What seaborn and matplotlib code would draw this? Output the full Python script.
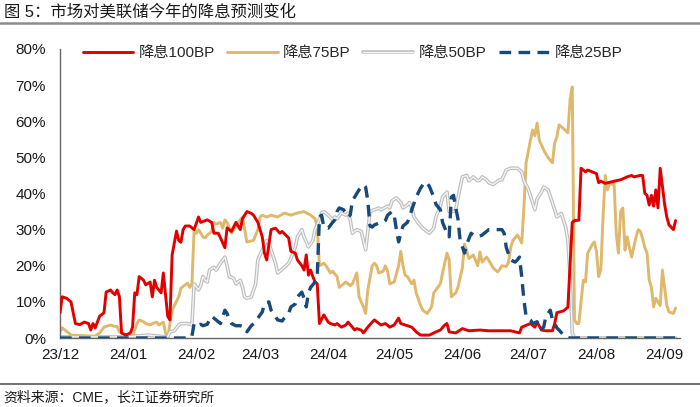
import numpy as np
import pandas as pd
import matplotlib
matplotlib.use("Agg")
import matplotlib.pyplot as plt
import matplotlib.dates as mdates
import matplotlib.patheffects as pe
from matplotlib.lines import Line2D
from matplotlib.ticker import FuncFormatter
import seaborn as sns

# ---------------- data (days since 2023-12-01, probability in %) ----------------
START_DATE = "2023-12-01"
series_names = ["降息100BP", "降息75BP", "降息50BP", "降息25BP"]

cut100_day = [0, 1, 3, 5, 6, 7, 9, 11, 13, 14, 15, 16, 17, 18, 20, 21, 23, 24, 25, 26, 27, 28, 30, 32, 33, 34, 35,
              36, 38, 39, 41, 42, 43, 44, 46, 47, 48, 49, 50, 51, 53, 54, 55, 56, 57, 59, 61, 63, 64, 67, 69, 70, 72,
              73, 75, 76, 78, 80, 82, 83, 85, 87, 88, 90, 92, 93, 94, 96, 98, 100, 101, 104, 105, 107, 108, 110, 111,
              112, 113, 114, 115, 116, 117, 118, 120, 122, 123, 125, 126, 128, 130, 131, 133, 134, 135, 137, 138, 140,
              142, 143, 146, 148, 150, 152, 154, 155, 157, 160, 162, 164, 166, 168, 171, 173, 175, 176, 177, 180, 183,
              186, 191, 195, 200, 205, 209, 210, 214, 216, 217, 219, 221, 224, 225, 226, 229, 231, 233, 234, 236, 237,
              239, 240, 242, 244, 245, 246, 248, 252, 255, 258, 260, 261, 264, 265, 266, 267, 268, 269, 270, 271, 272,
              273, 274, 275, 276, 277, 279, 280]
cut100_val = [7, 11.4, 11, 10, 7, 4, 3.7, 4.4, 4, 2.2, 4, 2.8, 4.4, 6, 7, 12.7, 13.3, 12.5, 12, 13.3, 11.5, 1.4, 0.8,
              1.4, 3, 12.5, 12, 17, 16, 14.7, 15.5, 11.4, 16, 14, 12.5, 18, 12, 6, 5, 23, 29.6, 27, 26.5, 30, 31, 31,
              30, 33.5, 32, 32.7, 32, 29, 29, 27.7, 25, 30.5, 29.5, 32, 30, 33, 35, 34.5, 34, 32, 28, 23.5, 21.6, 30,
              30.4, 29, 29.5, 27.7, 24, 23.5, 21.6, 20, 18.8, 23, 17.4, 18.8, 17, 15.5, 15, 4, 6.4, 4.4, 4, 3.6, 4, 3,
              3.6, 4.4, 3, 2.2, 2.6, 2.2, 1.4, 3, 4.4, 5, 3.6, 4, 3, 3.6, 5.5, 4, 3.6, 3, 1.7, 0.8, 0.8, 0.8, 1.7, 2.2,
              3.6, 4, 1.7, 1.4, 2.6, 2, 2.2, 2, 2, 2, 1.4, 3, 4, 3, 4.4, 2.2, 2, 2, 4, 7, 7.5, 8.5, 32, 32.5, 32.6,
              47, 46, 46.5, 46, 45.5, 43, 43.4, 42.8, 43.4, 43.8, 44.6, 45, 44.6, 45, 45, 40, 39.5, 36.8, 39.5, 36.5,
              41, 36, 47, 42, 37, 33.5, 31.3, 30, 32.5]

cut75_day = [0, 1, 2, 4, 5, 16, 18, 20, 23, 25, 26, 27, 29, 33, 35, 36, 38, 39, 41, 42, 44, 45, 47, 48, 49, 50, 51,
             54, 55, 58, 59, 60, 61, 62, 63, 65, 66, 67, 69, 70, 71, 73, 74, 75, 76, 78, 80, 81, 83, 84, 85, 88, 90,
             91, 92, 94, 96, 99, 102, 105, 108, 111, 114, 116, 117, 118, 120, 121, 123, 124, 126, 127, 129, 130, 132,
             133, 135, 136, 138, 139, 140, 142, 143, 144, 145, 147, 148, 149, 150, 152, 154, 155, 156, 157, 158, 160,
             161, 162, 164, 165, 167, 169, 170, 173, 174, 176, 177, 178, 180, 181, 183, 184, 185, 186, 188, 190, 191,
             192, 194, 195, 197, 199, 200, 201, 203, 204, 205, 206, 208, 209, 210, 211, 212, 214, 215, 216, 217, 218,
             220, 222, 224, 225, 226, 227, 229, 231, 232, 233, 234, 235, 236, 237, 238, 239, 240, 242, 243, 244, 245,
             246, 247, 248, 249, 250, 251, 252, 253, 254, 255, 256, 257, 258, 259, 260, 262, 263, 264, 265, 266, 267,
             268, 269, 270, 271, 272, 273, 274, 275, 276, 277, 279, 280]
cut75_val = [1.7, 2.8, 2.3, 1.4, 0.8, 0.5, 1.4, 3, 3.6, 3.2, 3.2, 1.7, 1, 0.5, 4, 5, 4.5, 4, 3.6, 4, 4.4, 3.6, 4.4,
             1.4, 0, 4, 7.7, 11.4, 13.8, 15.2, 14, 15, 30, 29, 30, 28, 27.7, 28.5, 29.5, 32, 31.5, 32, 30.4, 32.7, 32,
             29, 31, 32, 33.5, 30, 26.6, 27, 30, 33.5, 34, 33.5, 34, 33.5, 34.6, 34, 34.6, 35, 34, 33, 31, 20, 20.7,
             20, 18, 18.5, 17, 14, 15, 15.5, 14.5, 15, 18, 11.4, 8.6, 6.8, 13.3, 20, 20.7, 20, 18, 18.5, 20, 18.5, 15,
             15.5, 20, 24, 20, 17.4, 17, 15, 16, 12.5, 9, 7.7, 6.8, 8.6, 12.5, 15, 18, 23.5, 21.6, 11.4, 12.5, 14,
             19.4, 26, 24, 22, 23, 20, 23.8, 21, 22.4, 21.6, 19.4, 18.3, 19, 20, 19.8, 21, 25, 27, 28.5, 27.5, 26.3,
             36, 48.5, 54.8, 57.6, 56, 59.5, 54.8, 52, 49.9, 48.5, 54, 55.7, 59, 58, 56.8, 66, 69.5, 5, 4, 4, 10, 16,
             15.5, 23.5, 25.8, 26.6, 24, 17, 19, 33.5, 45, 41, 43, 42.5, 43, 29, 23.5, 35, 36, 24.3, 28, 25, 22.4, 28,
             30, 29.5, 27.5, 25, 23.5, 16, 14, 8.6, 11, 10, 9, 18.8, 14, 9, 7.2, 6.8, 8.3]

cut50_day = [0, 30, 40, 45, 49, 50, 52, 54, 55, 58, 60, 61, 63, 64, 65, 66, 67, 68, 70, 71, 73, 75, 76, 77, 79, 80,
             82, 83, 84, 85, 87, 89, 90, 92, 94, 95, 98, 99, 101, 104, 105, 107, 108, 110, 111, 113, 115, 116, 117,
             119, 120, 122, 124, 125, 126, 128, 130, 131, 132, 133, 135, 137, 139, 140, 141, 143, 145, 146, 149, 150,
             151, 153, 155, 156, 158, 159, 160, 161, 163, 165, 168, 170, 171, 173, 174, 176, 177, 179, 180, 182, 183,
             185, 186, 188, 190, 191, 192, 194, 195, 197, 199, 200, 201, 203, 205, 206, 208, 210, 211, 213, 215, 216,
             217, 219, 220, 222, 224, 225, 226, 228, 230, 231, 232, 233, 234, 280]
cut50_val = [0.3, 0.3, 0.8, 0.5, 0.3, 1.7, 2, 3.6, 4, 4, 3.6, 15, 13.3, 14.5, 17, 16, 15.5, 18.8, 19.6, 18.8, 20.7,
             22.4, 20, 17, 16.5, 15, 16, 14, 11.4, 11, 11.4, 15, 21.6, 24.4, 27, 26.3, 20.7, 18, 19, 20.7, 22, 25.2,
             28, 30, 28, 25.2, 27, 30, 31.3, 34.6, 35, 34, 32.7, 33.5, 33, 34.6, 34, 34.6, 32.7, 29, 30, 29.5, 24.4,
             29.5, 35, 35.5, 36, 35.5, 36.5, 36, 38, 38.8, 37.5, 36, 36.8, 37.5, 36, 33.5, 31.8, 30.4, 29, 30.5, 33.5,
             36.5, 39, 40.4, 35, 35, 35.5, 41.8, 44.6, 45, 43.5, 44.6, 43.5, 43.7, 44.6, 43.8, 43, 42.5, 43.4, 43.8,
             43.8, 46.5, 47, 47, 47, 46, 43.5, 41.2, 37.4, 35.5, 38.5, 40.4, 41.8, 41, 37.4, 35.5, 33.5, 34.5, 30.7,
             27, 17, 1.4, 0, 0]

cut25_day = [0, 59, 60, 61, 62, 64, 65, 67, 68, 69, 71, 73, 75, 76, 77, 78, 80, 82, 84, 85, 87, 89, 90, 92, 93, 95,
             96, 98, 99, 101, 102, 104, 105, 107, 108, 110, 111, 112, 113, 114, 116, 117, 118, 119, 120, 122, 124,
             125, 126, 127, 129, 131, 132, 133, 135, 136, 138, 139, 140, 141, 142, 143, 145, 147, 148, 149, 151, 152,
             153, 154, 156, 158, 159, 160, 162, 164, 166, 167, 168, 170, 171, 173, 174, 176, 177, 178, 179, 180, 181,
             182, 184, 185, 187, 188, 190, 192, 194, 195, 197, 199, 201, 202, 203, 205, 207, 208, 209, 210, 211, 212,
             214, 215, 217, 218, 220, 221, 223, 224, 226, 227, 229, 230, 232, 280]
cut25_val = [0, 0, 0.5, 4, 3.4, 3.8, 3.4, 3.8, 5, 6, 5, 4, 7.7, 6.8, 5, 4, 3.4, 3.4, 3, 1.7, 3.4, 4.4, 5.5, 7.2, 9.5,
             10, 7.7, 6, 5, 4.7, 5.5, 6.8, 8.6, 9.4, 11.4, 12.7, 11, 8.6, 12.5, 14, 15.5, 17, 33.5, 34, 30.7, 30.4,
             32, 32.7, 35, 36, 35.5, 33.5, 34, 38, 40, 41, 42.4, 41.8, 38, 31, 30.7, 31.3, 31.8, 32, 32.5, 34, 35, 34,
             30, 26.6, 31, 32, 33.5, 35.5, 39, 41.5, 43.2, 42.8, 42, 39, 37, 35.5, 32, 29, 28, 39, 39.5, 36, 33, 27,
             23.5, 26, 29, 28.5, 28, 28.5, 29.5, 30, 30, 30, 30, 29, 25, 21.6, 21, 21.6, 22.4, 17, 10.5, 6, 5, 4, 4.5,
             2.2, 3, 6, 7.7, 5, 2.8, 2.2, 0.8, 0.3, 0, 0]

month_ticks = ["2023-12-01", "2024-01-01", "2024-02-01", "2024-03-01", "2024-04-01", "2024-05-01",
               "2024-06-01", "2024-07-01", "2024-08-01", "2024-09-01"]
y_ticks = [0, 10, 20, 30, 40, 50, 60, 70, 80]

# ---------------- build table ----------------
base = pd.Timestamp(START_DATE)
frames = []
for name, days, vals in zip(series_names,
                            [cut100_day, cut75_day, cut50_day, cut25_day],
                            [cut100_val, cut75_val, cut50_val, cut25_val]):
    frames.append(pd.DataFrame({"date": base + pd.to_timedelta(days, unit="D"),
                                "prob": np.array(vals, dtype=float) / 100.0,
                                "series": name}))
df = pd.concat(frames, ignore_index=True)

# ---------------- style ----------------
sns.set_theme(style="white")
plt.rcParams["font.family"] = ["Liberation Sans", "Noto Sans CJK SC", "DejaVu Sans"]
plt.rcParams["axes.unicode_minus"] = False

colors = {"降息100BP": "#e00000", "降息75BP": "#dfb86c", "降息50BP": "#f3f3f3", "降息25BP": "#17497a"}
gray_fx = [pe.Stroke(linewidth=2.6, foreground="#bdbdbd"), pe.Normal()]

W, H = 700, 407
fig = plt.figure(figsize=(W / 100, H / 100), dpi=100)
ax = fig.add_axes([60 / W, 1 - 338 / H, 620 / W, (338 - 49) / H])

sub = {n: df[df["series"] == n] for n in series_names}
sns.lineplot(data=sub["降息100BP"], x="date", y="prob", ax=ax, color=colors["降息100BP"],
             linewidth=2.1, estimator=None, sort=False, zorder=3)
sns.lineplot(data=sub["降息75BP"], x="date", y="prob", ax=ax, color=colors["降息75BP"],
             linewidth=2.1, estimator=None, sort=False, zorder=2)
sns.lineplot(data=sub["降息50BP"], x="date", y="prob", ax=ax, color=colors["降息50BP"],
             linewidth=1.0, estimator=None, sort=False, zorder=2.5, path_effects=gray_fx)
sns.lineplot(data=sub["降息25BP"], x="date", y="prob", ax=ax, color=colors["降息25BP"],
             linewidth=2.4, estimator=None, sort=False, zorder=4, linestyle=(0, (3.5, 2.2)))

ax.set_xlim(base, base + pd.Timedelta(days=282))
ax.set_ylim(0, 0.8)
ax.set_xticks(pd.to_datetime(month_ticks))
ax.xaxis.set_major_formatter(mdates.DateFormatter("%y/%m"))
ax.set_yticks([v / 100 for v in y_ticks])
ax.yaxis.set_major_formatter(FuncFormatter(lambda v, p: f"{v * 100:.0f}%"))
ax.set_xlabel("")
ax.set_ylabel("")
for s in ["top", "right"]:
    ax.spines[s].set_visible(False)
for s in ["left", "bottom"]:
    ax.spines[s].set_color("#666666")
    ax.spines[s].set_linewidth(1.0)
ax.tick_params(axis="both", direction="in", length=4, width=1, color="#666666",
               labelsize=11, labelcolor="#1a1a1a")
ax.tick_params(axis="x", pad=7)
ax.tick_params(axis="y", pad=10)

handles = [
    Line2D([], [], color=colors["降息100BP"], lw=2.1),
    Line2D([], [], color=colors["降息75BP"], lw=2.1),
    Line2D([], [], color=colors["降息50BP"], lw=1.0, path_effects=gray_fx),
    Line2D([], [], color=colors["降息25BP"], lw=2.4, linestyle=(0, (3.5, 2.2))),
]
if ax.get_legend() is not None:
    ax.get_legend().remove()
fig.legend(handles, series_names, loc="center left", bbox_to_anchor=(83 / W, 1 - 53 / H),
           ncol=4, frameon=False, fontsize=11, handlelength=3.3, handletextpad=0.35,
           columnspacing=0.8, borderpad=0, borderaxespad=0)

fig.text(4 / W, 1 - 12 / H, "图 5：市场对美联储今年的降息预测变化", fontsize=11.8,
         va="center", ha="left", color="#1a1a1a")
fig.add_artist(Line2D([0, 1], [1 - 23 / H, 1 - 23 / H], color="#8c8c8c", lw=1.8))
fig.add_artist(Line2D([0, 1], [1 - 384 / H, 1 - 384 / H], color="#595959", lw=1.2))
fig.text(3 / W, 1 - 397 / H, "资料来源：CME，长江证券研究所", fontsize=10,
         va="center", ha="left", color="#1a1a1a")

fig.savefig("out.png", dpi=100)
